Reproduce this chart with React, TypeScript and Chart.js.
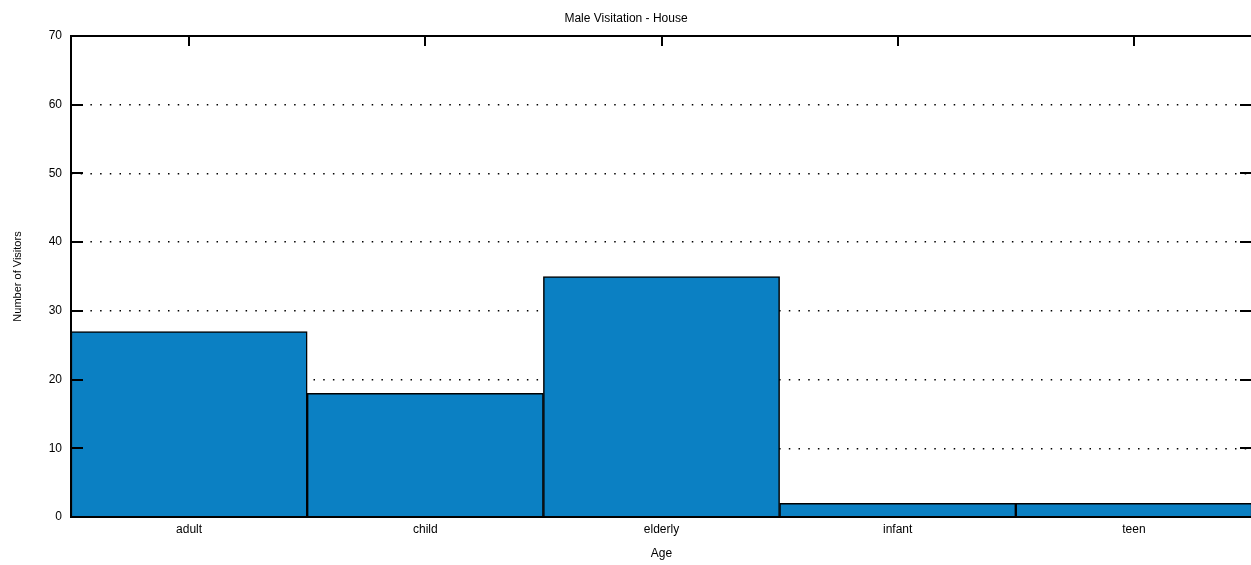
import React, { useEffect, useRef } from "react";
import { Chart, registerables } from "chart.js";

Chart.register(...registerables);

const categories = ["adult", "child", "elderly", "infant", "teen"];
const visitors = [27, 18, 35, 2, 2];
const yTicks = [0, 10, 20, 30, 40, 50, 60, 70];

const FONT = "'Liberation Sans', Arial, sans-serif";

const tickPlugin = {
  id: "innerTicks",
  afterDatasetsDraw(chart: any) {
    const { ctx, chartArea } = chart;
    const y = chart.scales.y;
    const x = chart.scales.x;
    ctx.save();
    ctx.strokeStyle = "#000";
    ctx.lineWidth = 2;
    ctx.setLineDash([]);
    yTicks.forEach((v) => {
      if (v === 0 || v === 70) return;
      const py = Math.round(y.getPixelForValue(v));
      ctx.beginPath();
      ctx.moveTo(chartArea.left, py);
      ctx.lineTo(chartArea.left + 12, py);
      ctx.moveTo(chartArea.right, py);
      ctx.lineTo(chartArea.right - 12, py);
      ctx.stroke();
    });
    categories.forEach((_, i) => {
      const px = Math.round(x.getPixelForValue(i));
      ctx.beginPath();
      ctx.moveTo(px, chartArea.top);
      ctx.lineTo(px, chartArea.top + 10);
      ctx.stroke();
    });
    ctx.lineWidth = 2;
    ctx.strokeRect(chartArea.left, chartArea.top, chartArea.right - chartArea.left, chartArea.bottom - chartArea.top);
    ctx.restore();
  },
};

export default function App() {
  const ref = useRef<HTMLCanvasElement>(null);
  useEffect(() => {
    document.body.style.margin = "0";
    const chart = new Chart(ref.current!, {
      type: "bar",
      data: {
        labels: categories,
        datasets: [
          {
            data: visitors,
            backgroundColor: "#0b80c3",
            borderColor: "#000",
            borderWidth: 1.5,
            categoryPercentage: 1,
            barPercentage: 1,
          },
        ],
      },
      options: {
        responsive: false,
        animation: false,
        layout: { padding: { left: 0, right: 2, top: 0, bottom: 0 } },
        plugins: {
          legend: { display: false },
          tooltip: { enabled: false },
          title: {
            display: true,
            text: "Male Visitation - House",
            color: "#000",
            font: { family: FONT, size: 12, weight: "normal" },
            padding: { top: 11, bottom: 10.6 },
          },
        },
        scales: {
          x: {
            grid: { display: false, drawTicks: false },
            border: { display: false },
            ticks: { color: "#000", font: { family: FONT, size: 12 }, padding: 5 },
            title: {
              display: true,
              text: "Age",
              color: "#000",
              font: { family: FONT, size: 12 },
              padding: { top: 4, bottom: 4 },
            },
            afterFit: (s: any) => {
              s.height = 48;
            },
          },
          y: {
            min: 0,
            max: 70,
            afterBuildTicks: (s: any) => {
              s.ticks = yTicks.map((v) => ({ value: v }));
            },
            grid: {
              color: (c: any) => (c.tick && (c.tick.value === 0 || c.tick.value === 70) ? "rgba(0,0,0,0)" : "#000"),
              lineWidth: 1.5,
              drawTicks: false,
            },
            border: { display: false, dash: [1.5, 8.2] },
            ticks: { color: "#000", font: { family: FONT, size: 12 }, padding: 9 },
            title: {
              display: true,
              text: "Number of Visitors",
              color: "#000",
              font: { family: FONT, size: 11 },
              padding: { top: 11, bottom: 4 },
            },
            afterFit: (s: any) => {
              s.width = 71;
            },
          },
        },
      },
      plugins: [tickPlugin],
    });
    return () => chart.destroy();
  }, []);
  return (
    <div style={{ width: 1251, height: 565, overflow: "hidden", background: "#fff" }}>
      <canvas ref={ref} width={1254} height={565} style={{ display: "block" }} />
    </div>
  );
}
